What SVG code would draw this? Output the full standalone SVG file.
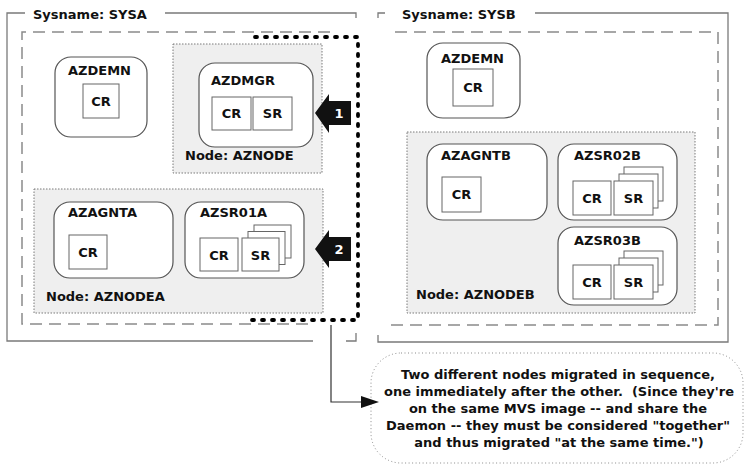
<svg xmlns="http://www.w3.org/2000/svg" width="746" height="465" viewBox="0 0 746 465">
  <defs>
    <style>
      .frame { fill: none; stroke: #7a7a7a; stroke-width: 1.3; }
      .dash { fill: none; stroke: #8a8a8a; stroke-width: 1.5; stroke-dasharray: 12 7; }
      .nodebox { fill: #efefef; stroke: #7a7a7a; stroke-width: 1; stroke-dasharray: 1.5 1.5; }
      .proc { fill: #ffffff; stroke: #555555; stroke-width: 1.2; }
      .res { fill: #ffffff; stroke: #666666; stroke-width: 1; }
      .lbl { font-family: "DejaVu Sans", "Liberation Sans", sans-serif; font-weight: bold; font-size: 13px; fill: #111111; }
      .mid { text-anchor: middle; }
      .num { font-family: "DejaVu Sans", "Liberation Sans", sans-serif; font-weight: bold; font-size: 13px; fill: #ffffff; text-anchor: middle; }
      .note { font-family: "DejaVu Sans", "Liberation Sans", sans-serif; font-weight: bold; font-size: 13px; fill: #111111; text-anchor: middle; }
      .group { fill: none; stroke: #000000; stroke-width: 3.8; stroke-linecap: round; stroke-dasharray: 2 8; }
      .line { fill: none; stroke: #333333; stroke-width: 1.2; }
    </style>
    <marker id="head" markerUnits="userSpaceOnUse" markerWidth="18" markerHeight="12" refX="0" refY="6" orient="auto">
      <path d="M0,0 L18,6 L0,12 Z" fill="#111111"/>
    </marker>
  </defs>

  <rect width="746" height="465" fill="#ffffff"/>

  <!-- System SYSA -->
  <g id="sysa">
    <path class="frame" d="M25,13 H7 V341 H313 M165,13 H356 V18 M346,341 H356 V333"/>
    <path class="dash" d="M330,32 H22 V324 H312"/>
    <text class="lbl" x="33" y="18.5">Sysname: SYSA</text>
  </g>

  <!-- System SYSB -->
  <g id="sysb">
    <path class="frame" d="M378,18 V13 H385 M535,13 H728 V342 H378 V335"/>
    <path class="dash" d="M395,32 H718 V325 H390"/>
    <text class="lbl" x="402" y="18.5">Sysname: SYSB</text>
  </g>

  <!-- SYSA daemon -->
  <g id="sysa-azdemn">
    <rect class="proc" x="55" y="57" width="92" height="80" rx="16"/>
    <text class="lbl" x="68" y="75">AZDEMN</text>
    <rect class="res" x="83" y="84" width="36" height="34"/>
    <text class="lbl mid" x="101" y="106">CR</text>
  </g>

  <!-- Node AZNODE -->
  <g id="aznode">
    <rect class="nodebox" x="173" y="44" width="149" height="129"/>
    <text class="lbl" x="185" y="160">Node: AZNODE</text>
    <g id="azdmgr">
      <rect class="proc" x="199" y="63" width="114" height="84" rx="16"/>
      <text class="lbl" x="211" y="85">AZDMGR</text>
      <rect class="res" x="212" y="97" width="39" height="33"/>
      <text class="lbl mid" x="231.5" y="118">CR</text>
      <rect class="res" x="253" y="97" width="39" height="33"/>
      <text class="lbl mid" x="272.5" y="118">SR</text>
    </g>
  </g>

  <!-- Node AZNODEA -->
  <g id="aznodea">
    <rect class="nodebox" x="34" y="189" width="289" height="124"/>
    <text class="lbl" x="46" y="301">Node: AZNODEA</text>
    <g id="azagnta">
      <rect class="proc" x="54" y="202" width="119" height="76" rx="16"/>
      <text class="lbl" x="68" y="217">AZAGNTA</text>
      <rect class="res" x="69" y="235" width="38" height="34"/>
      <text class="lbl mid" x="88" y="256.5">CR</text>
    </g>
    <g id="azsr01a">
      <rect class="proc" x="185" y="202" width="119" height="76" rx="16"/>
      <text class="lbl" x="200" y="217">AZSR01A</text>
      <rect class="res" x="254" y="225" width="37" height="33"/>
      <rect class="res" x="248" y="231.5" width="37" height="33"/>
      <rect class="res" x="242" y="238" width="37" height="33"/>
      <text class="lbl mid" x="260.5" y="259.5">SR</text>
      <rect class="res" x="200" y="238" width="38" height="33"/>
      <text class="lbl mid" x="219" y="259.5">CR</text>
    </g>
  </g>

  <!-- SYSB daemon -->
  <g id="sysb-azdemn">
    <rect class="proc" x="427" y="43" width="93" height="75" rx="16"/>
    <text class="lbl" x="441" y="63">AZDEMN</text>
    <rect class="res" x="453" y="69" width="40" height="37"/>
    <text class="lbl mid" x="473" y="92">CR</text>
  </g>

  <!-- Node AZNODEB -->
  <g id="aznodeb">
    <rect class="nodebox" x="407" y="132" width="288" height="181"/>
    <text class="lbl" x="416" y="299">Node: AZNODEB</text>
    <g id="azagntb">
      <rect class="proc" x="427" y="144" width="120" height="76" rx="16"/>
      <text class="lbl" x="441" y="159.5">AZAGNTB</text>
      <rect class="res" x="442" y="177" width="39" height="35"/>
      <text class="lbl mid" x="461.5" y="199">CR</text>
    </g>
    <g id="azsr02b">
      <rect class="proc" x="558" y="144" width="119" height="76" rx="16"/>
      <text class="lbl" x="574" y="159.5">AZSR02B</text>
      <rect class="res" x="624" y="167" width="39" height="34"/>
      <rect class="res" x="619" y="174" width="39" height="34"/>
      <rect class="res" x="614" y="181" width="39" height="34"/>
      <text class="lbl mid" x="633.5" y="202.5">SR</text>
      <rect class="res" x="573" y="181" width="38" height="34"/>
      <text class="lbl mid" x="592" y="202.5">CR</text>
    </g>
    <g id="azsr03b">
      <rect class="proc" x="558" y="227" width="119" height="78" rx="16"/>
      <text class="lbl" x="574" y="245">AZSR03B</text>
      <rect class="res" x="624" y="251" width="39" height="34"/>
      <rect class="res" x="619" y="258" width="39" height="34"/>
      <rect class="res" x="614" y="265" width="39" height="34"/>
      <text class="lbl mid" x="633.5" y="286.5">SR</text>
      <rect class="res" x="573" y="265" width="38" height="34"/>
      <text class="lbl mid" x="592" y="286.5">CR</text>
    </g>
  </g>

  <!-- Note -->
  <g id="note">
    <rect x="371" y="353" width="372" height="110" rx="30" fill="#ffffff" stroke="#8a8a8a" stroke-width="1" stroke-dasharray="1 2.5"/>
    <text class="note" x="558" y="378.5">Two different nodes migrated in sequence,</text>
    <text class="note" x="559" y="395.5">one immediately after the other. &#160;(Since they're</text>
    <text class="note" x="558" y="412.5">on the same MVS image -- and share the</text>
    <text class="note" x="558" y="429.5">Daemon -- they must be considered "together"</text>
    <text class="note" x="559" y="446.5">and thus migrated "at the same time.")</text>
  </g>

  <!-- Connectors -->
  <g id="connectors">
    <path class="group" d="M255,37 H358 V320 H252"/>
    <g id="step1">
      <polygon points="315,113 329,94 329,101 351,101 351,125 329,125 329,133" fill="#111111"/>
      <text class="num" x="339" y="118">1</text>
    </g>
    <g id="step2">
      <polygon points="315,249 329,230 329,237 351,237 351,261 329,261 329,268" fill="#111111"/>
      <text class="num" x="339" y="254">2</text>
    </g>
    <path class="line" d="M331,325 V402 H361" marker-end="url(#head)"/>
  </g>
</svg>
